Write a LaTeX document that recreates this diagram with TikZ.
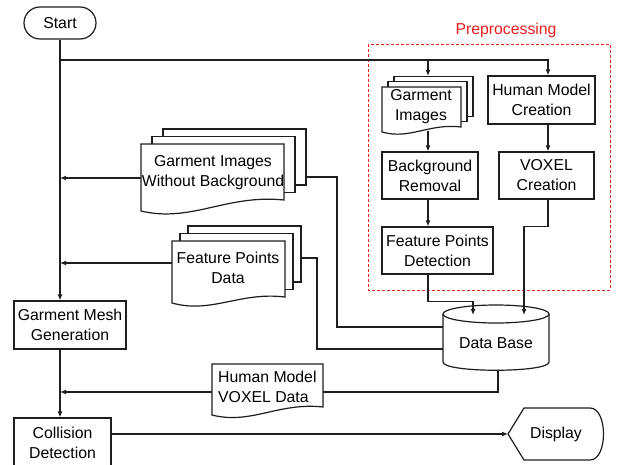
\documentclass[tikz,border=0pt]{standalone}
\usepackage{fontspec}
\setmainfont{Liberation Sans}
\usetikzlibrary{arrows.meta}
\newcommand\diagfont{\fontsize{15.8}{20}\selectfont}
\definecolor{prered}{RGB}{235,30,30}
\definecolor{ink}{RGB}{30,30,30}
% front document sheet: x1, top, x2, left bottom y, right bottom y, dip
\newcommand\docfront[6]{%
  \draw[sheet] (#1,#2) -- (#3,#2) -- (#3,#5)
    .. controls ({#1+0.6*(#3-#1)},{#5-0.5*#6}) and ({#1+0.35*(#3-#1)},{#4+#6}) .. (#1,#4) -- cycle;}
% back sheets: x1, top, x2, right bottom y, dx, dy
\newcommand\docback[6]{%
  \draw[sheet] ({#1+2*#5},{#2-2*#6}) rectangle ({#3+2*#5},{#4-2*#6});
  \draw[sheet] ({#1+#5},{#2-#6}) rectangle ({#3+#5},{#4-#6});}
\begin{document}
\begin{tikzpicture}[x=1pt,y=-1pt,
  line/.style={draw=ink, line width=1.2pt},
  arr/.style={line, -{Latex[length=6pt,width=5pt]}},
  box/.style={draw=ink, line width=1.2pt, fill=white, align=center, inner sep=0pt, font=\diagfont},
  sheet/.style={draw=ink, line width=1.2pt, fill=white},
  lbl/.style={align=center, inner sep=0pt, font=\diagfont},
  prebox/.style={draw=prered, line width=0.8pt, dash pattern=on 3pt off 2pt},
]
\useasboundingbox (0,0) rectangle (623,465);
\fill[white] (0,0) rectangle (623,465);

% preprocessing frame
\draw[prebox] (368,44) rectangle (610,290);
\node[lbl, text=prered] (pre) at (506,30) {Preprocessing};

% process boxes
\node[box, rounded corners=16pt, minimum width=72pt, minimum height=32pt] (start) at (60,23) {Start};
\node[box, minimum width=107pt, minimum height=48pt] (hmc) at (541.5,100) {Human Model\\Creation};
\node[box, minimum width=96pt, minimum height=47pt] (br) at (430,175.5) {Background\\Removal};
\node[box, minimum width=95pt, minimum height=47pt] (vc) at (546.5,175.5) {VOXEL\\Creation};
\node[box, minimum width=111pt, minimum height=47pt] (fpd) at (437.5,250.5) {Feature Points\\Detection};
\node[box, minimum width=112pt, minimum height=48pt] (gm) at (70,325) {Garment Mesh\\Generation};
\node[box, minimum width=97pt, minimum height=50pt] (cd) at (62.5,443) {Collision\\Detection};

% multi-document: Garment Images
\docback{382}{87}{461}{127}{6}{5.3}
\docfront{382}{87}{461}{132}{127}{8}
\node[lbl] (gi) at (421,107) {Garment\\Images};

% multi-document: Garment Images Without Background
\docback{141}{144}{284}{200}{11}{7.5}
\docfront{141}{144}{284}{211}{200}{12}
\node[lbl] (giwb) at (213,173) {Garment Images\\Without Background};

% multi-document: Feature Points Data
\docback{172}{241}{285}{297}{8}{7.5}
\docfront{172}{241}{285}{303}{297}{11}
\node[lbl] (fpdata) at (228,268) {Feature Points\\Data};

% document: Human Model VOXEL Data
\docfront{212}{364}{323}{415}{407}{10}
\node[lbl, align=left, anchor=west] (hmvd) at (218,387) {Human Model\\VOXEL Data};

% data base cylinder
\draw[sheet] (443,314) -- (443,362) .. controls (443,373) and (549,373) .. (549,362) -- (549,314);
\draw[sheet] (496,314) ellipse [x radius=53, y radius=9];
\node[lbl] (db) at (496,343) {Data Base};

% display
\draw[sheet] (508,434) -- (524,408) -- (590,408) .. controls (608,408) and (608,460) .. (590,460) -- (524,460) -- cycle;
\node[lbl] (disp) at (556,434) {Display};

% connection points
\coordinate (j1) at (60,60);
\coordinate (cA) at (428,0);
\coordinate (cB) at (548,0);
\coordinate (bendA) at (337,0);
\coordinate (bendB) at (317,0);
\coordinate (giTop) at (428,76);
\coordinate (giBot) at (428,131);
\coordinate (giwbL) at (141,178);
\coordinate (giwbR) at (306,177);
\coordinate (fpdataL) at (172,263);
\coordinate (fpdataR) at (301,258);
\coordinate (hmvdL) at (212,392);
\coordinate (hmvdR) at (323,392);
\coordinate (dbinA) at (473,315);
\coordinate (dbinB) at (524,315);
\coordinate (dbL1) at (443,327);
\coordinate (dbL2) at (443,349);
\coordinate (dbB) at (498,370);
\coordinate (dispL) at (508,434);

% connectors
\draw[arr] (start.south) -- (gm.north -| start.south);
\draw[arr] (j1) -| (hmc.north -| cB);
\draw[arr] (j1 -| cA) -- (giTop);
\draw[arr] (giBot) -- (br.north -| cA);
\draw[arr] (hmc.south -| cB) -- (vc.north -| cB);
\draw[arr] (br.south -| cA) -- (fpd.north -| cA);
\draw[arr] (fpd.south -| cA) -- ++(0,27) -| (dbinA);
\draw[arr] (vc.south -| cB) -- ++(0,27) -| (dbinB);
\draw[line] (giwbR) -- (giwbR -| bendA) |- (dbL1);
\draw[line] (fpdataR) -- (fpdataR -| bendB) |- (dbL2);
\draw[arr] (giwbL) -- (giwbL -| start.south);
\draw[arr] (fpdataL) -- (fpdataL -| start.south);
\draw[arr] (gm.south -| start.south) -- (cd.north -| start.south);
\draw[arr] (hmvdL) -- (hmvdL -| start.south);
\draw[line] (dbB) |- (hmvdR);
\draw[arr] (cd.east |- dispL) -- (dispL);
\end{tikzpicture}
\end{document}
